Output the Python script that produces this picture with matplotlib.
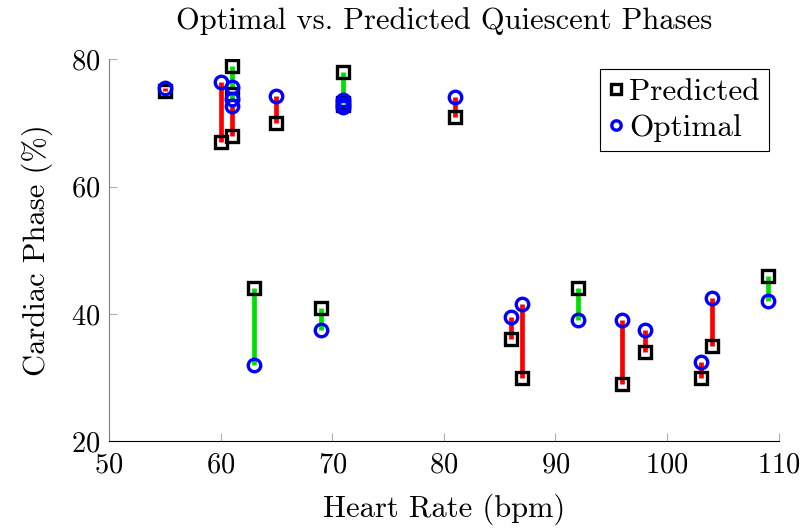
import matplotlib
matplotlib.use("Agg")
import matplotlib.pyplot as plt

plt.rcParams['font.family'] = 'serif'
plt.rcParams['font.serif'] = ['cmr10']
plt.rcParams['mathtext.fontset'] = 'cm'
plt.rcParams['axes.formatter.use_mathtext'] = True

# heart rate, predicted phase, optimal phase
hr = [55, 60, 61, 61, 61, 63, 65, 69, 71, 71, 71, 81,
      86, 87, 92, 96, 98, 103, 104, 109]
predicted = [75, 67, 79, 74.6, 68, 44, 70, 41, 78, 73.2, 72.8, 71,
             36, 30, 44, 29, 34, 30, 35, 46]
optimal = [75.5, 76.5, 75.7, 73.8, 72.6, 32, 74.2, 37.5, 73.6, 73.0, 72.5, 74,
           39.5, 41.5, 39, 39, 37.5, 32.5, 42.5, 42]

fig = plt.figure(figsize=(8.07, 5.29), dpi=100)
ax = fig.add_axes([0.135, 0.166, 0.83, 0.722])

# error lines: green if predicted above optimal, red otherwise
for x, p, o in zip(hr, predicted, optimal):
    c = '#00e000' if p > o else 'red'
    ax.plot([x, x], [p, o], color=c, lw=3.4, solid_capstyle='butt', zorder=2)

ax.plot(hr, predicted, ls='none', marker='s', ms=9, mfc='none', mec='black',
        mew=2.4, label='Predicted', zorder=3)
ax.plot(hr, optimal, ls='none', marker='o', ms=9, mfc='none', mec='blue',
        mew=2.4, label='Optimal', zorder=4)

ax.set_xlim(50, 110)
ax.set_ylim(20, 80)
ax.set_xticks([50, 60, 70, 80, 90, 100, 110])
ax.set_yticks([20, 40, 60, 80])
ax.tick_params(direction='in', length=6, color='#b0b0b0', labelsize=20.5)
ax.tick_params(axis='x', pad=8)
ax.tick_params(axis='y', pad=6)
ax.spines['top'].set_visible(False)
ax.spines['right'].set_visible(False)
ax.spines['left'].set_color('#808080')

ax.set_title("Optimal vs. Predicted Quiescent Phases", fontsize=22, pad=22)
ax.set_xlabel("Heart Rate (bpm)", fontsize=22, labelpad=11)
ax.set_ylabel("Cardiac Phase (%)", fontsize=22, labelpad=13)

leg = ax.legend(loc='upper right', fontsize=22.5, handlelength=0.45, handletextpad=0.2,
                borderpad=0.3, labelspacing=0.25, fancybox=False, framealpha=1,
                edgecolor='black', markerscale=0.75, borderaxespad=0.3)
leg.get_frame().set_linewidth(0.8)

fig.savefig("out.png", dpi=100)
